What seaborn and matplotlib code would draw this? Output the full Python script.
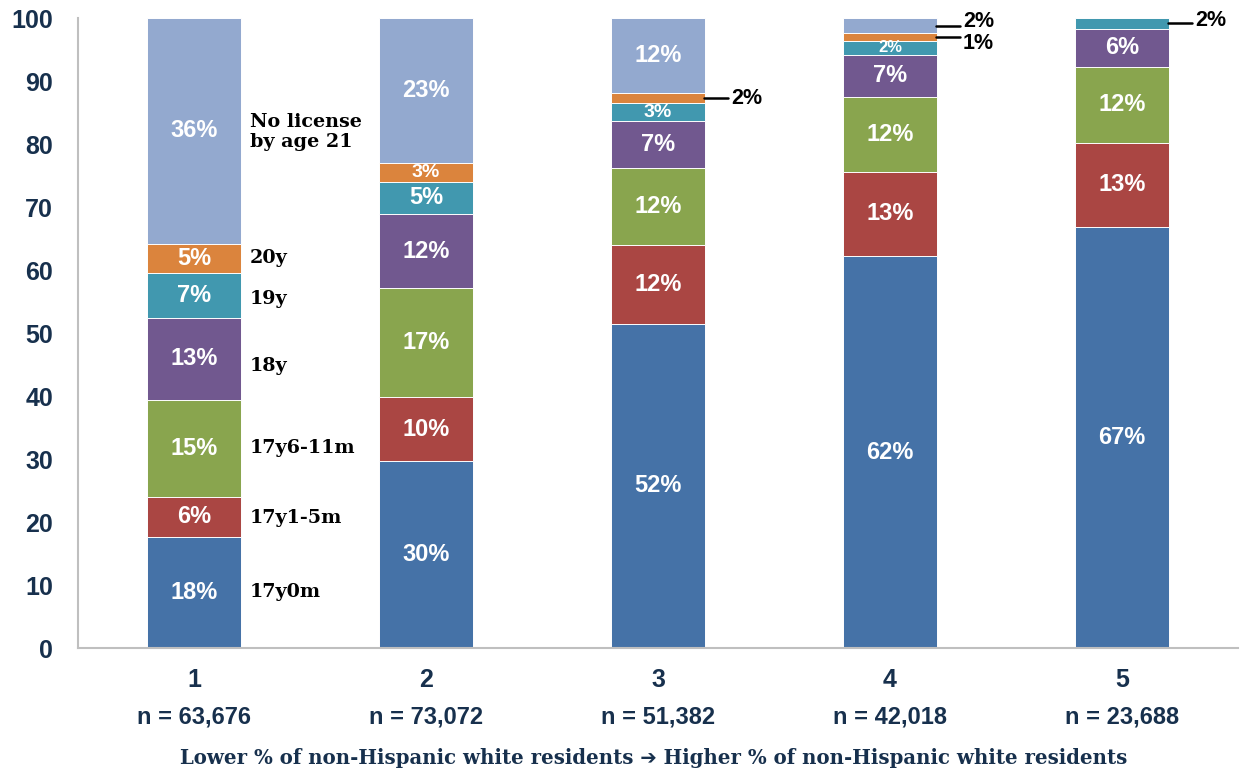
import os
import pandas as pd
import matplotlib
matplotlib.use("Agg")
import matplotlib.pyplot as plt
from matplotlib import font_manager as fm
import seaborn as sns

groups = ["1", "2", "3", "4", "5"]
n_labels = ["n = 63,676", "n = 73,072", "n = 51,382", "n = 42,018", "n = 23,688"]
series = ["17y0m", "17y1-5m", "17y6-11m", "18y", "19y", "20y", "No license\nby age 21"]
colors = ["#4572A7", "#AA4643", "#89A54E", "#71588F", "#4198AF", "#DB843D", "#93A9CF"]

# share (%) per series, one entry per group
v_17y0m = [17.6, 29.7, 51.5, 62.2, 66.8]
v_17y1_5m = [6.4, 10.1, 12.4, 13.4, 13.4]
v_17y6_11m = [15.4, 17.3, 12.3, 11.9, 12.0]
v_18y = [13.0, 11.8, 7.4, 6.6, 6.1]
v_19y = [7.2, 5.1, 2.9, 2.3, 1.7]
v_20y = [4.6, 3.0, 1.6, 1.2, 0.0]
v_nolic = [35.8, 23.0, 11.9, 2.4, 0.0]
values = [v_17y0m, v_17y1_5m, v_17y6_11m, v_18y, v_19y, v_20y, v_nolic]

# segments labelled outside the bar with a leader line: (group, series) -> text shift
outside = {(2, 5): 0.0, (3, 5): -1.0, (3, 6): 0.6, (4, 4): 0.4}
# vertical positions of the series names next to bar 1
name_y = [8.9, 20.6, 31.7, 44.8, 55.4, 61.9, 81.9]

rows = []
for s, vals in zip(series, values):
    for g, v in zip(groups, vals):
        rows.append({"group": g, "series": s, "value": v})
df = pd.DataFrame(rows)
df["top"] = df.groupby("group")["value"].cumsum()
df["bottom"] = df["top"] - df["value"]

sns.set_style("white")

# regular-width Arial-like bold (avoid the Narrow variant being picked)
bold_path = [p for p in fm.findSystemFonts() if os.path.basename(p) == "LiberationSans-Bold.ttf"]


def sans(size):
    if bold_path:
        return fm.FontProperties(fname=bold_path[0], size=size)
    return fm.FontProperties(family="DejaVu Sans", weight="bold", size=size)


navy = "#17304D"
fig = plt.figure(figsize=(12.43, 7.73), dpi=100)
ax = fig.add_axes([0.0628, 0.1617, 0.9332, 0.815])

# stacked bars: draw cumulative tops from the highest series down
for s, c in reversed(list(zip(series, colors))):
    sub = df[df["series"] == s]
    sns.barplot(data=sub, x="group", y="top", order=groups, color=c, width=0.405,
                edgecolor="white", linewidth=0.7, saturation=1, errorbar=None, ax=ax)

for _, r in df.iterrows():
    gi = groups.index(r["group"])
    si = series.index(r["series"])
    v = r["value"]
    if v <= 0:
        continue
    txt = f"{round(v)}%"
    mid = r["bottom"] + v / 2
    if (gi, si) in outside:
        ax.plot([gi + 0.2, gi + 0.3], [mid, mid], color="black", lw=1.8, clip_on=False)
        ax.text(gi + 0.315, mid + outside[(gi, si)], txt, ha="left", va="center",
                fontproperties=sans(15.5), color="black")
    else:
        fs = 17 if v >= 4 else (14 if v >= 2.7 else 12)
        ax.text(gi, mid, txt, ha="center", va="center", fontproperties=sans(fs), color="white")

for s, y in zip(series, name_y):
    ax.text(0.24, y, s, ha="left", va="center", fontsize=13.8, fontweight="bold",
            color="black", family=["DejaVu Serif"], linespacing=1.1)

ax.set_ylim(0, 100)
ax.set_xlim(-0.5, 4.5)
ax.set_yticks(range(0, 101, 10))
ax.set_xlabel("")
ax.set_ylabel("")
ax.set_yticklabels([str(t) for t in range(0, 101, 10)], fontproperties=sans(18), color=navy)
ax.tick_params(axis="y", length=0, pad=18)
ax.set_xticks(range(len(groups)))
ax.set_xticklabels([])
ax.tick_params(axis="x", length=0)
for i, (g, n) in enumerate(zip(groups, n_labels)):
    ax.text(i, -0.051, g, transform=ax.get_xaxis_transform(), ha="center", va="center",
            fontproperties=sans(18), color=navy)
    ax.text(i, -0.109, n, transform=ax.get_xaxis_transform(), ha="center", va="center",
            fontproperties=sans(17), color=navy)

for sp in ["top", "right"]:
    ax.spines[sp].set_visible(False)
for sp in ["left", "bottom"]:
    ax.spines[sp].set_color("#BFBFBF")
    ax.spines[sp].set_linewidth(1.5)

fig.text(0.526, 0.0194, "Lower % of non-Hispanic white residents \u2794 Higher % of non-Hispanic white residents",
         ha="center", va="center", fontsize=14.2, fontweight="bold", color=navy,
         family=["DejaVu Serif", "DejaVu Sans"])

fig.savefig("out.png", dpi=100)
